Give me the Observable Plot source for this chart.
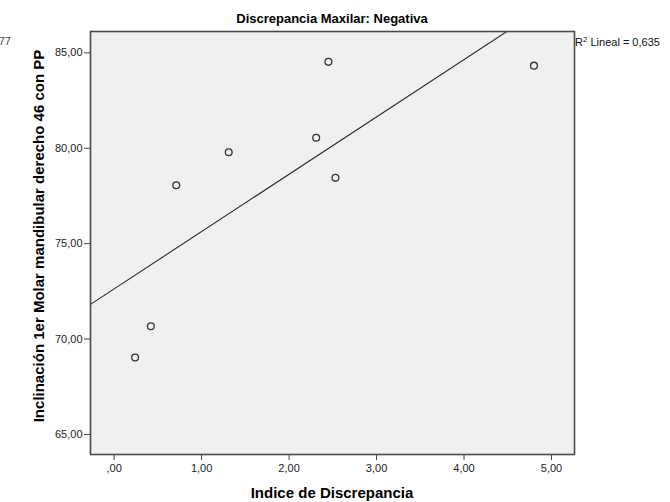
<!DOCTYPE html>
<html>
<head>
<meta charset="utf-8">
<script src="https://cdn.jsdelivr.net/npm/d3@7"></script>
<script src="https://cdn.jsdelivr.net/npm/@observablehq/plot@0.6"></script>
<style>
  html, body { margin: 0; padding: 0; background: #fff; }
  #chart { width: 670px; height: 502px; }
  svg { font-family: "Liberation Sans", Arial, sans-serif; }
</style>
</head>
<body>
<div id="chart"></div>
<script>
// Data
const indiceDiscrepancia = [0.24, 0.42, 0.71, 1.31, 2.31, 2.45, 2.53, 4.80];
const inclinacion46 = [69.03, 70.67, 78.06, 79.79, 80.55, 84.53, 78.45, 84.33];
const xTicks = [0, 1, 2, 3, 4, 5];
const yTicks = [65, 70, 75, 80, 85];
const xDomain = [-0.27, 5.263];
const yDomain = [63.95, 86.12];
const title = "Discrepancia Maxilar: Negativa";
const xLabel = "Indice de Discrepancia";
const yLabel = "Inclinación 1er Molar mandibular derecho 46 con PP";
const r2Text = "0,635";
const neighbourFragment = "77";

const points = indiceDiscrepancia.map((x, i) => ({x, y: inclinacion46[i]}));

// least squares fit (SPSS "Lineal")
const mx = d3.mean(indiceDiscrepancia), my = d3.mean(inclinacion46);
const sxy = d3.sum(points, p => (p.x - mx) * (p.y - my));
const sxx = d3.sum(points, p => (p.x - mx) ** 2);
const slope = sxy / sxx, intercept = my - slope * mx;
const fitLine = xDomain.map(x => ({x, y: intercept + slope * x}));

const fmt = d => d.toFixed(2).replace(".", ",").replace(/^0/, "");

const W = 670, H = 502;
const mL = 90, mR = 96, mT = 31, mB = 48;

const plot = Plot.plot({
  width: W,
  height: H,
  marginLeft: mL,
  marginRight: mR,
  marginTop: mT,
  marginBottom: mB,
  x: {domain: xDomain},
  y: {domain: yDomain},
  style: {fontFamily: "'Liberation Sans', Arial, sans-serif", fontSize: "11px", color: "#222", background: "#fff"},
  marks: [
    Plot.frame({fill: "#f0f0f0", stroke: null}),
    Plot.line(fitLine, {x: "x", y: "y", stroke: "#2a2a2a", strokeWidth: 1.1, clip: true}),
    Plot.dot(points, {x: "x", y: "y", r: 3.4, stroke: "#333", strokeWidth: 1.3, fill: "none"}),
    Plot.axisX({ticks: xTicks, tickFormat: fmt, tickSize: 6, tickPadding: 4, label: null, stroke: "#444", fontSize: 11}),
    Plot.axisY({ticks: yTicks, tickFormat: fmt, tickSize: 6, tickPadding: 2, label: null, stroke: "#444", fontSize: 11}),
    Plot.frame({stroke: "#4a4a4a", strokeWidth: 1.6})
  ]
});
document.getElementById("chart").appendChild(plot);

const svg = d3.select(plot);
const cx = mL + (W - mL - mR) / 2;
svg.append("text").attr("x", cx).attr("y", 23).attr("text-anchor", "middle")
  .attr("font-weight", "bold").attr("font-size", 13).attr("fill", "#000").text(title);
svg.append("text").attr("x", cx).attr("y", 498).attr("text-anchor", "middle")
  .attr("font-weight", "bold").attr("font-size", 15).attr("fill", "#000").text(xLabel);
svg.append("text").attr("transform", `translate(44,236) rotate(-90)`)
  .attr("text-anchor", "middle").attr("font-weight", "bold").attr("font-size", 15)
  .attr("fill", "#000").text(yLabel);

const t = svg.append("text").attr("x", W - mR + 1).attr("y", 46).attr("text-anchor", "start")
  .attr("font-size", 11).attr("fill", "#111");
t.append("tspan").text("R");
t.append("tspan").attr("dy", -4).attr("font-size", 8).text("2");
t.append("tspan").attr("dy", 4).text(" Lineal = " + r2Text);

svg.append("text").attr("x", 11).attr("y", 45).attr("text-anchor", "end")
  .attr("font-size", 11).attr("fill", "#444").text(neighbourFragment);
</script>
</body>
</html>
